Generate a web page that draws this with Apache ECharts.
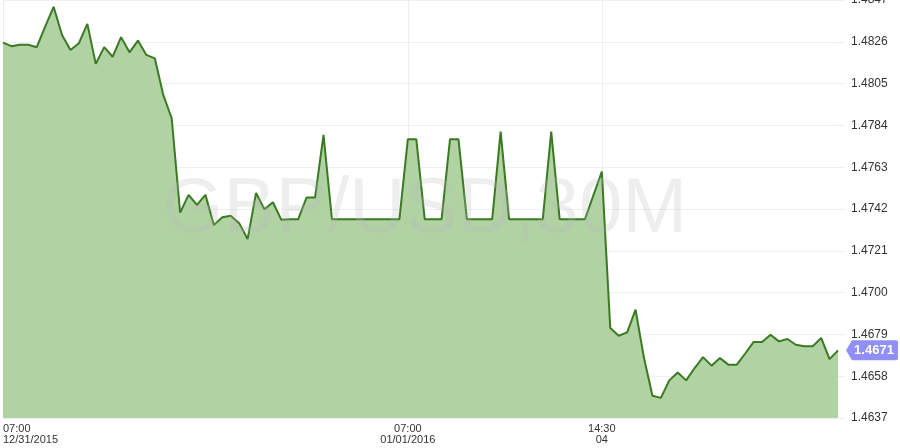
<!DOCTYPE html>
<html><head><meta charset="utf-8">
<script src="https://cdn.jsdelivr.net/npm/echarts@6/dist/echarts.min.js"></script>
<style>html,body{margin:0;padding:0;background:#fff}#c{width:900px;height:448px}</style>
</head><body><div id="c"></div>
<script>
const prices = [
  1.48256, 1.48238, 1.48245, 1.48245, 1.48233, 1.48336, 1.48436, 1.48294, 1.48219, 1.48253,
  1.48350, 1.48149, 1.48233, 1.48185, 1.48283, 1.48207, 1.48266, 1.48194, 1.48177, 1.47993,
  1.47876, 1.47402, 1.47491, 1.47441, 1.47491, 1.47340, 1.47379, 1.47386, 1.47349, 1.47269,
  1.47500, 1.47419, 1.47454, 1.47366, 1.47369, 1.47369, 1.47478, 1.47478, 1.47792, 1.47369,
  1.47369, 1.47369, 1.47369, 1.47369, 1.47369, 1.47369, 1.47369, 1.47369, 1.47771, 1.47771,
  1.47369, 1.47369, 1.47369, 1.47771, 1.47771, 1.47369, 1.47369, 1.47369, 1.47369, 1.47809,
  1.47369, 1.47369, 1.47369, 1.47369, 1.47369, 1.47809, 1.47369, 1.47369, 1.47369, 1.47369,
  1.47489, 1.47608, 1.46822, 1.46783, 1.46800, 1.46914, 1.46671, 1.46482, 1.46471, 1.46559,
  1.46599, 1.46559, 1.46621, 1.46676, 1.46633, 1.46671, 1.46638, 1.46638, 1.46694, 1.46752,
  1.46752, 1.46788, 1.46755, 1.46767, 1.46738, 1.46730, 1.46730, 1.46772, 1.46666, 1.46710
];
const tickIndex = [0, 48, 71];
const tickText = ['07:00\n12/31/2015', '07:00\n01/01/2016', '14:30\n04'];
const yMin = 1.4637, yMax = 1.4847, yStep = 0.0021;
const watermark = 'GBP/USD,30M';
const categories = prices.map((_, i) => String(i));

const FONT = 'Arial, "Liberation Sans", sans-serif';
const chart = echarts.init(document.getElementById('c'), null, {renderer: 'canvas'});
const lastIdx = prices.length - 1;
const isTick = (i) => tickIndex.indexOf(i) >= 0;

chart.setOption({
  animation: false,
  backgroundColor: '#ffffff',
  grid: {left: 3, right: 62, top: 0, bottom: 30, containLabel: false, outerBoundsMode: 'none'},
  graphic: [{
    type: 'text', x: 425, y: 210, z: 100, silent: true,
    style: {text: watermark, font: '78px ' + FONT, fill: 'rgba(185,185,185,0.24)',
      align: 'center', verticalAlign: 'middle'}
  }],
  xAxis: {
    type: 'category', data: categories, boundaryGap: false,
    axisLine: {show: false}, axisTick: {show: false},
    axisLabel: {
      interval: (i) => isTick(i), margin: 5,
      color: '#333', fontFamily: FONT, fontSize: 11, lineHeight: 11,
      alignMinLabel: 'left',
      formatter: (v, i) => { const k = tickIndex.indexOf(i); return k >= 0 ? tickText[k] : ''; }
    },
    splitLine: {show: true, interval: (i) => isTick(i), lineStyle: {color: '#eeeeee', width: 1}}
  },
  yAxis: {
    type: 'value', position: 'right', min: yMin, max: yMax, interval: yStep,
    axisLine: {show: false},
    axisTick: {show: true, length: 7, lineStyle: {color: '#eeeeee'}},
    splitLine: {show: true, lineStyle: {color: '#f0f0f0', width: 1}},
    axisLabel: {margin: 13, color: '#333', fontFamily: FONT, fontSize: 12,
      formatter: (v) => v.toFixed(4)}
  },
  series: [{
    type: 'line', data: prices, symbol: 'none', clip: false,
    lineStyle: {color: '#3a7a22', width: 2},
    areaStyle: {color: '#aed09f', opacity: 0.96},
    markPoint: {
      symbol: 'path://M0,10 L6,0 L50,0 Q52,0 52,2 L52,18 Q52,20 50,20 L6,20 Z',
      symbolSize: [52, 20], symbolOffset: [34, 0], symbolKeepAspect: false,
      itemStyle: {color: '#8f8ff5'},
      label: {show: true, color: '#fff', fontFamily: FONT, fontWeight: 'bold', fontSize: 13,
        offset: [2, 0], formatter: (p) => p.value.toFixed(4)},
      data: [{coord: [lastIdx, prices[lastIdx]], value: prices[lastIdx]}]
    }
  }]
});
</script></body></html>
